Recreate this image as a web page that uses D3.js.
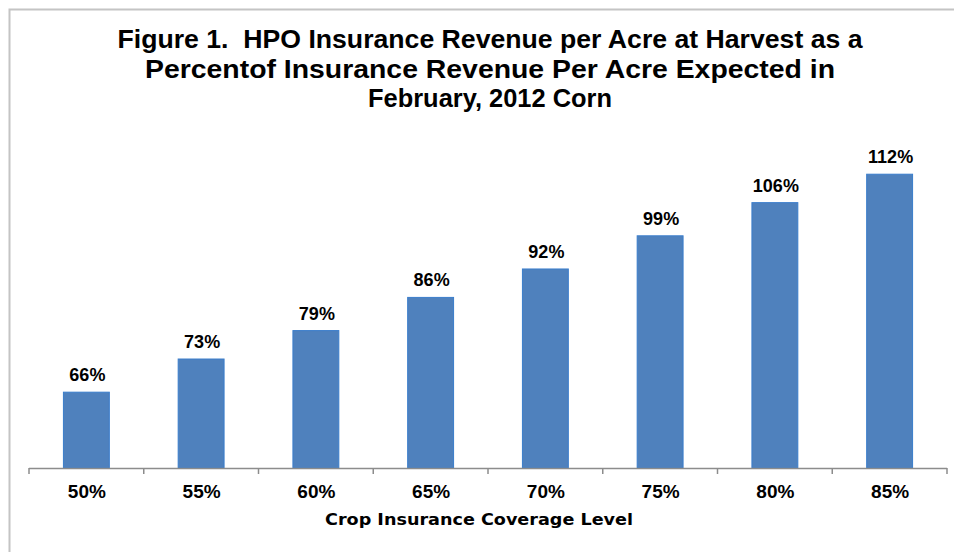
<!DOCTYPE html>
<html><head><meta charset="utf-8">
<script src="https://cdn.jsdelivr.net/npm/d3@7"></script>
<style>body{margin:0;background:#fff}svg{display:block}</style>
</head><body>
<script>
const categories = ["50%","55%","60%","65%","70%","75%","80%","85%"];
const values = [66,73,79,86,92,99,106,112];
const valueLabels = ["66%","73%","79%","86%","92%","99%","106%","112%"];
const titleLines = ["Figure 1.\u00a0 HPO Insurance Revenue per Acre at Harvest as a",
                    "Percentof Insurance Revenue Per Acre Expected in",
                    "February, 2012 Corn"];
const xTitle = "Crop Insurance Coverage Level";
const yDomain = [50,120];

(function(){
const W=954,H=552;
const svg=d3.select("body").append("svg").attr("width",W).attr("height",H);
const font="'Liberation Sans', Arial, sans-serif";

// frame
svg.append("path").attr("d",`M9.5,${H} V9.5 H${W}`).attr("fill","none").attr("stroke","#c4c4c4").attr("stroke-width",2);

const plotLeft=29,plotRight=947,base=468,plotTop=136.3;
const x=d3.scaleBand().domain(categories).range([plotLeft,plotRight]).padding(0);
const y=d3.scaleLinear().domain(yDomain).range([base,plotTop]);
const bw=x.bandwidth()*0.4;

// title
const tw=[745,690,244], tb=[48,78,107];
svg.selectAll("text.title").data(titleLines).enter().append("text")
  .attr("x",490).attr("y",(d,i)=>tb[i]).attr("text-anchor","middle")
  .attr("font-family",font).attr("font-weight","bold").attr("font-size",26)
  .attr("textLength",(d,i)=>tw[i]).attr("lengthAdjust","spacingAndGlyphs")
  .attr("fill","#000").text(d=>d);

// bars
svg.selectAll("rect.bar").data(values).enter().append("rect")
  .attr("x",(d,i)=>x(categories[i])+x.bandwidth()/2-bw/2)
  .attr("y",d=>y(d)).attr("width",bw).attr("height",d=>base-y(d))
  .attr("fill","#4F81BD").attr("stroke","#3A7DCB").attr("stroke-width",1);

// value labels
svg.selectAll("text.val").data(values).enter().append("text")
  .attr("x",(d,i)=>x(categories[i])+x.bandwidth()/2+1)
  .attr("y",d=>y(d)-11).attr("text-anchor","middle")
  .attr("font-family",font).attr("font-weight","bold").attr("font-size",18)
  .attr("fill","#000").text((d,i)=>valueLabels[i]);

// axis
const g=svg.append("g");
g.append("line").attr("x1",plotLeft).attr("x2",plotRight).attr("y1",base+0.5).attr("y2",base+0.5).attr("stroke","#8c8c8c").attr("stroke-width",1.5);
const tickPos=categories.map(c=>x(c)).concat([plotRight]);
g.selectAll("line.t").data(tickPos).enter().append("line")
  .attr("x1",d=>d).attr("x2",d=>d).attr("y1",base).attr("y2",base+6)
  .attr("stroke","#8c8c8c").attr("stroke-width",1.5);
g.selectAll("text.cat").data(categories).enter().append("text")
  .attr("x",d=>x(d)+x.bandwidth()/2+0.5).attr("y",498).attr("text-anchor","middle")
  .attr("font-family",font).attr("font-weight","bold").attr("font-size",19)
  .attr("fill","#000").text(d=>d);

svg.append("text").attr("x",479).attr("y",525).attr("text-anchor","middle")
  .attr("font-family","'DejaVu Sans', Verdana, sans-serif").attr("font-weight","bold").attr("font-size",16)
  .attr("textLength",308).attr("lengthAdjust","spacingAndGlyphs")
  .attr("fill","#000").text(xTitle);
})();
</script>
</body></html>
